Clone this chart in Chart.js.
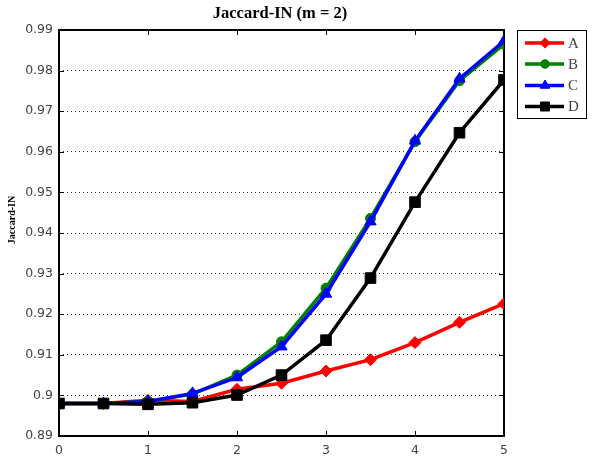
<!DOCTYPE html>
<html>
<head>
<meta charset="utf-8">
<title>Jaccard-IN (m = 2)</title>
<script src="https://cdn.jsdelivr.net/npm/chart.js@4.4.1/dist/chart.umd.min.js"></script>
<style>
    html, body { margin: 0; padding: 0; background: #fff; }
    #wrap { width: 592px; height: 461px; }
</style>
</head>
<body>
<div id="wrap"><canvas id="jaccard-chart" width="592" height="461"></canvas></div>
<script>
/* ---- data ---- */
var xValues = [0, 0.5, 1, 1.5, 2, 2.5, 3, 3.5, 4, 4.5, 5];
var seriesA = [0.898, 0.898, 0.8988, 0.8985, 0.9015, 0.903, 0.906, 0.9088, 0.913, 0.918, 0.9226];
var seriesB = [0.898, 0.898, 0.8985, 0.9003, 0.905, 0.9132, 0.9264, 0.9436, 0.9625, 0.9775, 0.9865];
var seriesC = [0.898, 0.898, 0.8985, 0.9005, 0.9044, 0.912, 0.925, 0.9428, 0.9627, 0.978, 0.9873];
var seriesD = [0.898, 0.898, 0.8978, 0.8982, 0.9001, 0.905, 0.9136, 0.9289, 0.9476, 0.9647, 0.9777];
var seriesNames = ['A', 'B', 'C', 'D'];
var xTicks = [0, 1, 2, 3, 4, 5];
var yMin = 0.89, yMax = 0.99, yStep = 0.01;

(function() {
    'use strict';

    function toPoints(ys) {
        return ys.map(function(y, i) { return { x: xValues[i], y: y }; });
    }

    function makeSet(label, ys, color, style, radius, order) {
        return {
            label: label,
            data: toPoints(ys),
            borderColor: color,
            backgroundColor: color,
            borderWidth: 3.5,
            pointStyle: style,
            pointRadius: radius,
            pointBorderWidth: 1,
            pointBorderColor: color,
            pointBackgroundColor: color,
            tension: 0,
            order: order
        };
    }

    var datasets = [
        makeSet(seriesNames[0], seriesA, '#ff0000', 'rectRot', 6, 3),
        makeSet(seriesNames[1], seriesB, '#008000', 'circle', 5, 2),
        makeSet(seriesNames[2], seriesC, '#0000ff', 'triangle', 6.5, 1),
        makeSet(seriesNames[3], seriesD, '#000000', 'rect', 7.5, 0)
    ];

    /* frame box + inward tick marks, titles, legend box */
    var framePlugin = {
        id: 'frame',
        beforeDatasetsDraw: function(chart) {
            var ctx = chart.ctx, a = chart.chartArea;
            var xs = chart.scales.x, ys = chart.scales.y;
            ctx.save();
            ctx.strokeStyle = '#000';
            ctx.lineWidth = 1;
            ctx.beginPath();
            xs.ticks.forEach(function(t) {
                var px = Math.round(xs.getPixelForValue(t.value)) + 0.5;
                ctx.moveTo(px, a.bottom); ctx.lineTo(px, a.bottom - 5);
                ctx.moveTo(px, a.top); ctx.lineTo(px, a.top + 5);
            });
            ys.ticks.forEach(function(t) {
                var py = Math.round(ys.getPixelForValue(t.value)) + 0.5;
                ctx.moveTo(a.left, py); ctx.lineTo(a.left + 5, py);
                ctx.moveTo(a.right, py); ctx.lineTo(a.right - 5, py);
            });
            ctx.stroke();
            ctx.lineWidth = 2;
            ctx.strokeRect(a.left, a.top, a.right - a.left, a.bottom - a.top);
            ctx.restore();
        },
        afterDraw: function(chart) {
            var ctx = chart.ctx;
            ctx.save();
            // title
            ctx.fillStyle = '#000';
            ctx.font = 'bold 16.5px "Liberation Serif", serif';
            ctx.textAlign = 'center';
            ctx.textBaseline = 'alphabetic';
            ctx.fillText('Jaccard-IN (m = 2)', 280, 18);
            // y axis title
            ctx.translate(15, 220);
            ctx.rotate(-Math.PI / 2);
            ctx.font = 'bold 10px "Liberation Serif", serif';
            ctx.fillText('Jaccard-IN', 0, 0);
            ctx.restore();

            // legend box
            ctx.save();
            ctx.fillStyle = '#fff';
            ctx.fillRect(517.5, 30.5, 69, 88);
            ctx.strokeStyle = '#000';
            ctx.lineWidth = 1;
            ctx.strokeRect(517.5, 30.5, 69, 88);
            var rows = [43, 64, 85.5, 106.5];
            chart.data.datasets.forEach(function(ds, i) {
                var y = rows[i];
                ctx.strokeStyle = ds.borderColor;
                ctx.lineWidth = ds.borderWidth;
                ctx.beginPath();
                ctx.moveTo(525, y); ctx.lineTo(564, y);
                ctx.stroke();
                ctx.fillStyle = ds.pointBackgroundColor;
                ctx.lineWidth = 1;
                Chart.helpers.drawPoint(ctx, {
                    pointStyle: ds.pointStyle,
                    radius: ds.pointRadius * 0.85,
                    rotation: 0,
                    borderWidth: 1
                }, 545, y);
                ctx.fillStyle = '#444';
                ctx.font = '15px "Liberation Serif", serif';
                ctx.textAlign = 'left';
                ctx.textBaseline = 'middle';
                ctx.fillText(ds.label, 568, y + 1);
            });
            ctx.restore();
        }
    };

    var tickFont = { family: '"DejaVu Sans", sans-serif', size: 12.5 };

    new Chart(document.getElementById('jaccard-chart'), {
        type: 'line',
        data: { datasets: datasets },
        options: {
            responsive: false,
            animation: false,
            layout: { padding: { left: 0, right: 88, top: 30, bottom: 0 } },
            plugins: {
                legend: { display: false },
                title: { display: false },
                tooltip: { enabled: false }
            },
            scales: {
                x: {
                    type: 'linear',
                    min: 0,
                    max: 5,
                    afterFit: function(s) { s.height = 25; },
                    afterBuildTicks: function(s) {
                        s.ticks = xTicks.map(function(v) { return { value: v }; });
                    },
                    ticks: { color: '#444', font: tickFont, padding: 7, maxRotation: 0 },
                    grid: { display: false, drawTicks: false },
                    border: { display: false }
                },
                y: {
                    min: yMin,
                    max: yMax,
                    afterFit: function(s) { s.width = 59; },
                    ticks: {
                        stepSize: yStep,
                        color: '#444',
                        font: tickFont,
                        padding: 6,
                        callback: function(v) { return String(+v.toFixed(2)); }
                    },
                    grid: { color: '#333', lineWidth: 1, drawTicks: false },
                    border: { display: false, dash: [1, 3] }
                }
            }
        },
        plugins: [framePlugin]
    });
})();
</script>
</body>
</html>
